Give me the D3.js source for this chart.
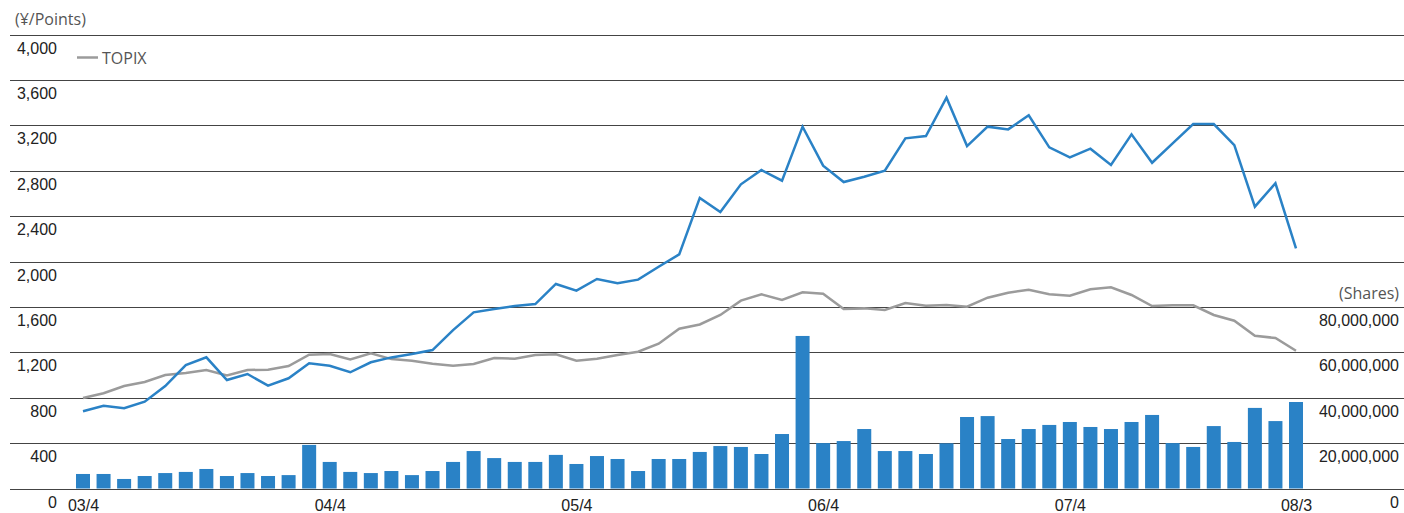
<!DOCTYPE html>
<html>
<head>
<meta charset="utf-8">
<script src="https://cdn.jsdelivr.net/npm/d3@7"></script>
<style>
  html, body { margin: 0; padding: 0; background: #fff; }
  svg { display: block; font-family: "Open Sans", "Noto Sans", sans-serif; }
</style>
</head>
<body>
<svg id="chart" width="1404" height="513"></svg>
<script>
const months = [
  "03/4","03/5","03/6","03/7","03/8","03/9","03/10","03/11","03/12","04/1","04/2","04/3",
  "04/4","04/5","04/6","04/7","04/8","04/9","04/10","04/11","04/12","05/1","05/2","05/3",
  "05/4","05/5","05/6","05/7","05/8","05/9","05/10","05/11","05/12","06/1","06/2","06/3",
  "06/4","06/5","06/6","06/7","06/8","06/9","06/10","06/11","06/12","07/1","07/2","07/3",
  "07/4","07/5","07/6","07/7","07/8","07/9","07/10","07/11","07/12","08/1","08/2","08/3"
];
const xTickLabels = ["03/4","04/4","05/4","06/4","07/4","08/3"];

// Stock price (¥)
const stockPrice = [
  680, 728, 707, 765, 903, 1088, 1156, 956, 1009, 906, 971, 1103,
  1082, 1024, 1112, 1155, 1185, 1220, 1396, 1552, 1581, 1608, 1625, 1802,
  1743, 1846, 1808, 1840, 1954, 2063, 2560, 2436, 2680, 2806, 2712, 3188,
  2844, 2700, 2747, 2800, 3085, 3105, 3443, 3017, 3188, 3164, 3288, 3006,
  2918, 2994, 2850, 3120, 2870, 3041, 3211, 3211, 3026, 2483, 2689, 2116
];
// TOPIX (points)
const topix = [
  797, 839, 903, 938, 1000, 1018, 1044, 997, 1044, 1047, 1079, 1179,
  1185, 1138, 1191, 1140, 1126, 1100, 1082, 1097, 1150, 1144, 1176, 1182,
  1126, 1144, 1176, 1205, 1276, 1408, 1445, 1529, 1655, 1711, 1661, 1728,
  1716, 1581, 1587, 1573, 1634, 1611, 1617, 1602, 1681, 1725, 1751, 1711,
  1699, 1755, 1773, 1705, 1608, 1614, 1614, 1529, 1478, 1346, 1326, 1214
];
// Trading volume (shares)
const volume = [
  6.4e6, 6.4e6, 4.2e6, 5.5e6, 6.8e6, 7.3e6, 8.6e6, 5.5e6, 6.8e6, 5.5e6, 5.9e6, 19.2e6,
  11.7e6, 7.3e6, 6.8e6, 7.7e6, 5.9e6, 7.7e6, 11.7e6, 16.5e6, 13.4e6, 11.7e6, 11.7e6, 14.8e6,
  10.8e6, 14.3e6, 13.0e6, 7.7e6, 13.0e6, 13.0e6, 16.1e6, 18.7e6, 18.3e6, 15.2e6, 24.0e6, 67.2e6,
  20.0e6, 20.9e6, 26.2e6, 16.5e6, 16.5e6, 15.2e6, 19.9e6, 31.5e6, 31.9e6, 21.8e6, 26.2e6, 28.0e6,
  29.3e6, 27.1e6, 26.2e6, 29.3e6, 32.4e6, 20.0e6, 18.3e6, 27.5e6, 20.5e6, 35.5e6, 29.7e6, 38.1e6
];
const leftTicks = [0, 400, 800, 1200, 1600, 2000, 2400, 2800, 3200, 3600, 4000];
const rightTicks = [0, 20000000, 40000000, 60000000, 80000000];
const legendLabel = "TOPIX";
const leftUnit = "(¥/Points)";
const rightUnit = "(Shares)";

const svg = d3.select("#chart");
const x = d3.scalePoint().domain(months).range([83, 1296]);
const y = d3.scaleLinear().domain([0, 4000]).range([488.5, 34.5]);
const yVol = d3.scaleLinear().domain([0, 80000000]).range([488.5, y(1600)]);
const fmt = d3.format(",");

// gridlines
svg.append("g").selectAll("line").data(leftTicks).join("line")
  .attr("x1", 10).attr("x2", 1404)
  .attr("y1", d => Math.round(y(d)) + 0.5).attr("y2", d => Math.round(y(d)) + 0.5)
  .attr("stroke", "#444").attr("stroke-width", 1);

// bars
const bw = 14;
svg.append("g").selectAll("rect").data(volume).join("rect")
  .attr("x", (d, i) => x(months[i]) - bw / 2)
  .attr("width", bw)
  .attr("y", d => yVol(d))
  .attr("height", d => yVol(0) - yVol(d))
  .attr("fill", "#2a82c6");

// lines
const line = d3.line().x((d, i) => x(months[i])).y(d => y(d));
svg.append("path").datum(topix).attr("d", line)
  .attr("fill", "none").attr("stroke", "#9b9b9b").attr("stroke-width", 2.5)
  .attr("stroke-linejoin", "miter");
svg.append("path").datum(stockPrice).attr("d", line)
  .attr("fill", "none").attr("stroke", "#2a82c6").attr("stroke-width", 2.5)
  .attr("stroke-linejoin", "miter");

// left axis
const axL = svg.append("g").attr("transform", "translate(57,0)")
  .call(d3.axisLeft(y).tickValues(leftTicks).tickSize(0).tickPadding(0).tickFormat(fmt));
axL.select(".domain").remove();
axL.selectAll("text").attr("dy", 0).attr("y", 18.5)
  .attr("font-size", 16).attr("fill", "#222").attr("font-family", null);

// right axis
const axR = svg.append("g").attr("transform", "translate(1399,0)")
  .call(d3.axisLeft(yVol).tickValues(rightTicks).tickSize(0).tickPadding(0).tickFormat(fmt));
axR.select(".domain").remove();
axR.selectAll("text").attr("dy", 0).attr("y", 18.5)
  .attr("font-size", 16).attr("fill", "#222").attr("font-family", null);

// bottom axis
const axB = svg.append("g").attr("transform", "translate(0,488.5)")
  .call(d3.axisBottom(x).tickValues(xTickLabels).tickSize(0).tickPadding(0));
axB.select(".domain").remove();
axB.selectAll("text").attr("dy", 0).attr("y", 22.5)
  .attr("font-size", 16).attr("fill", "#222").attr("font-family", null);

// unit labels
svg.append("text").attr("x", 15).attr("y", 25).attr("font-size", 16)
  .attr("fill", "#555").text(leftUnit);
svg.append("text").attr("x", 1399).attr("y", 299).attr("text-anchor", "end")
  .attr("font-size", 16).attr("fill", "#555").text(rightUnit);

// legend
svg.append("line").attr("x1", 77).attr("x2", 98).attr("y1", 57.5).attr("y2", 57.5)
  .attr("stroke", "#9b9b9b").attr("stroke-width", 2.5);
svg.append("text").attr("x", 102).attr("y", 64).attr("font-size", 16)
  .attr("fill", "#555").text(legendLabel);
</script>
</body>
</html>
